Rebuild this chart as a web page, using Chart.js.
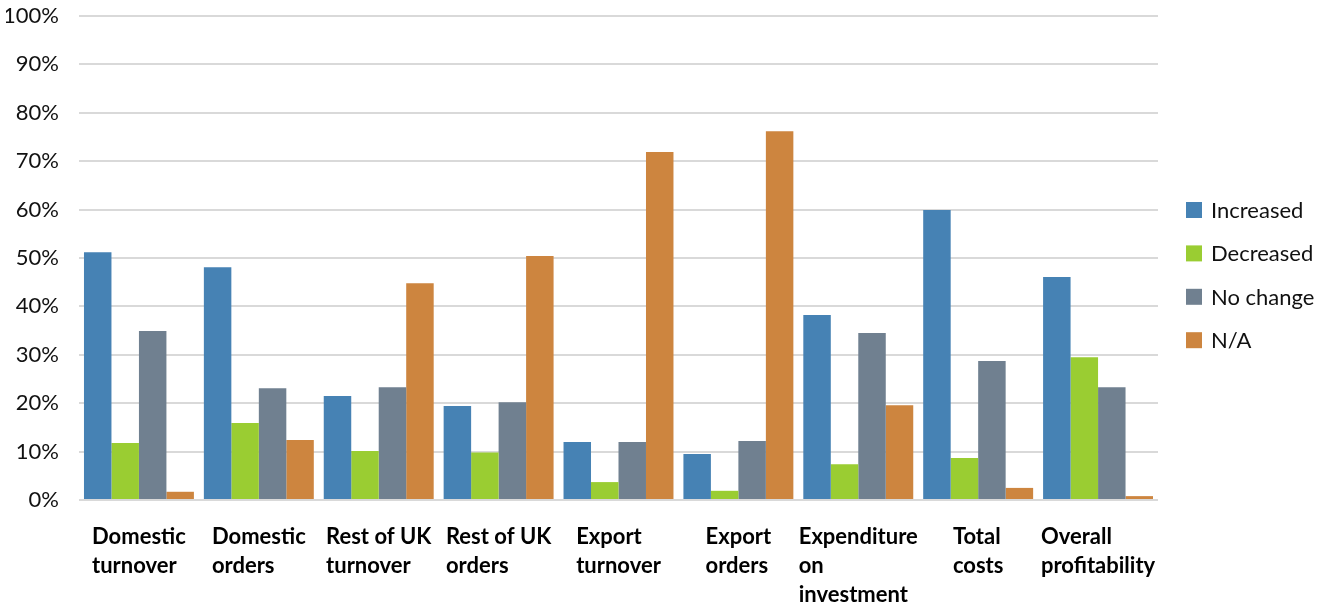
<!DOCTYPE html>
<html>
<head>
<meta charset="utf-8">
<script src="https://cdn.jsdelivr.net/npm/chart.js@4/dist/chart.umd.min.js"></script>
<style>
  html, body { margin: 0; padding: 0; background: #fff; }
</style>
</head>
<body>
<canvas id="myChart" width="1332" height="612"></canvas>
<script>
// survey categories (each entry is a list of lines)
var categories = [
  ["Domestic", "turnover"],
  ["Domestic", "orders"],
  ["Rest of UK", "turnover"],
  ["Rest of UK", "orders"],
  ["Export", "turnover"],
  ["Export", "orders"],
  ["Expenditure", "on", "investment"],
  ["Total", "costs"],
  ["Overall", "profitability"]
];

// share of respondents, in %
var increased = [51.2, 48.1, 21.5, 19.4, 12.0, 9.5, 38.2, 59.9, 46.1];
var decreased = [11.8, 15.9, 10.1, 9.8, 3.7, 1.9, 7.4, 8.7, 29.5];
var noChange = [34.9, 23.1, 23.3, 20.2, 12.0, 12.2, 34.5, 28.7, 23.3];
var notApplicable = [1.7, 12.4, 44.8, 50.4, 71.9, 76.2, 19.6, 2.5, 0.8];

var yTicks = [0, 10, 20, 30, 40, 50, 60, 70, 80, 90, 100];

var fontFamily = "Lato, 'Open Sans', sans-serif";

// category labels: wrapped, left aligned, block centred under each group
var categoryLabels = {
  id: "categoryLabels",
  afterDraw: function (chart) {
    var ctx = chart.ctx;
    var x = chart.scales.x;
    var bottom = chart.chartArea.bottom;
    ctx.save();
    ctx.font = "bold 22px " + fontFamily;
    ctx.fillStyle = "#000";
    ctx.textAlign = "left";
    ctx.textBaseline = "alphabetic";
    categories.forEach(function (lines, i) {
      var w = 0;
      lines.forEach(function (l) { w = Math.max(w, ctx.measureText(l).width); });
      var left = x.getPixelForValue(i) - w / 2;
      lines.forEach(function (l, j) {
        ctx.fillText(l, left, bottom + 44 + j * 29);
      });
    });
    ctx.restore();
  }
};

// legend on the right
var sideLegend = {
  id: "sideLegend",
  afterDraw: function (chart) {
    var ctx = chart.ctx;
    var area = chart.chartArea;
    ctx.save();
    ctx.font = "22px " + fontFamily;
    ctx.textBaseline = "middle";
    ctx.textAlign = "left";
    chart.data.datasets.forEach(function (ds, i) {
      var cy = area.top + 194 + i * 43.4;
      ctx.fillStyle = ds.backgroundColor;
      ctx.fillRect(area.right + 28, cy - 8, 16, 16);
      ctx.fillStyle = "#111";
      ctx.fillText(ds.label, area.right + 53, cy + 1);
    });
    ctx.restore();
  }
};

var ctx1 = document.getElementById("myChart").getContext("2d");
var myChart = new Chart(ctx1, {
  type: "bar",
  data: {
    labels: categories,
    datasets: [
      { label: "Increased", data: increased, backgroundColor: "#4682b4" },
      { label: "Decreased", data: decreased, backgroundColor: "#9acd32" },
      { label: "No change", data: noChange, backgroundColor: "#708090" },
      { label: "N/A", data: notApplicable, backgroundColor: "#cd853f" }
    ]
  },
  options: {
    responsive: false,
    animation: false,
    layout: {
      padding: { top: 16, left: 6, right: 174, bottom: 112 }
    },
    datasets: {
      bar: { categoryPercentage: 0.917, barPercentage: 1.0 }
    },
    plugins: {
      legend: { display: false },
      tooltip: { enabled: false }
    },
    scales: {
      x: {
        grid: { display: false },
        border: { display: false },
        ticks: { display: false },
        afterFit: function (axis) { axis.height = 0; }
      },
      y: {
        min: 0,
        max: 100,
        afterBuildTicks: function (axis) {
          axis.ticks = yTicks.map(function (v) { return { value: v }; });
        },
        afterFit: function (axis) {
          axis.width = 73;
          axis.paddingTop = 0;
          axis.paddingBottom = 0;
        },
        grid: { color: "#d9d9d9", lineWidth: 2, drawTicks: false },
        border: { display: false },
        ticks: {
          padding: 20,
          color: "#111",
          font: { family: fontFamily, size: 22 },
          callback: function (v) { return v + "%"; }
        }
      }
    }
  },
  plugins: [categoryLabels, sideLegend]
});
</script>
</body>
</html>
